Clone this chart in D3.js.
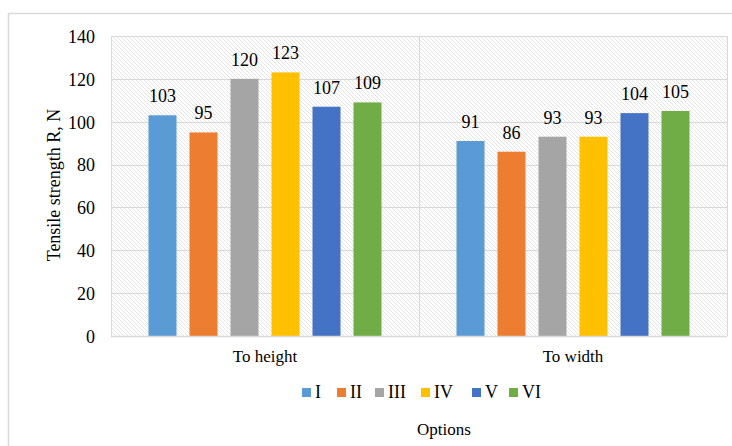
<!DOCTYPE html>
<html>
<head>
<meta charset="utf-8">
<script src="https://cdn.jsdelivr.net/npm/d3@7"></script>
<style>
  html, body { margin: 0; padding: 0; background: #fff; }
  svg { display: block; }
</style>
</head>
<body>
<svg id="chart" width="732" height="446"></svg>
<script>
// Tensile strength by option, measured in two directions
const categories = ["To height", "To width"];
const options = ["I", "II", "III", "IV", "V", "VI"];
const valuesToHeight = [103, 95, 120, 123, 107, 109];
const valuesToWidth = [91, 86, 93, 93, 104, 105];
const yTicks = [0, 20, 40, 60, 80, 100, 120, 140];
const colors = ["#5B9BD5", "#ED7D31", "#A5A5A5", "#FFC000", "#4472C4", "#70AD47"];

const seriesByCategory = [valuesToHeight, valuesToWidth];
const FONT = "'Liberation Serif', 'Times New Roman', Times, serif";

const svg = d3.select("#chart");
const W = 732, H = 446;
const plot = { left: 111, right: 727, top: 36, bottom: 336 };

// Outer chart frame
svg.append("rect")
  .attr("x", 8.5).attr("y", 13.5)
  .attr("width", W - 8.5 + 5).attr("height", H)
  .attr("fill", "#fff").attr("stroke", "#d9d9d9").attr("stroke-width", 1.5);

// Diagonal hatch used as the plot-area fill
const defs = svg.append("defs");
const pat = defs.append("pattern")
  .attr("id", "hatch").attr("patternUnits", "userSpaceOnUse")
  .attr("width", 4).attr("height", 4);
pat.append("rect").attr("width", 4).attr("height", 4).attr("fill", "#fff");
pat.append("path")
  .attr("d", "M-1,-1 L5,5 M-1,3 L1,5 M3,-1 L5,1")
  .attr("stroke", "#e4e4e4").attr("stroke-width", 1);

const x0 = d3.scaleBand().domain(categories).range([plot.left, plot.right]).padding(0);
const x1 = d3.scaleBand().domain(options)
  .range([37.5, x0.bandwidth() - 37.5]).paddingInner(13 / 41).paddingOuter(0);
const y = d3.scaleLinear().domain([0, 140]).range([plot.bottom, plot.top]);

svg.append("rect")
  .attr("x", plot.left).attr("y", plot.top)
  .attr("width", plot.right - plot.left).attr("height", plot.bottom - plot.top)
  .attr("fill", "url(#hatch)");

// Horizontal gridlines
svg.append("g")
  .selectAll("line").data(yTicks).join("line")
  .attr("x1", plot.left).attr("x2", plot.right)
  .attr("y1", d => Math.round(y(d)) + 0.5).attr("y2", d => Math.round(y(d)) + 0.5)
  .attr("stroke", "#d9d9d9").attr("stroke-width", 1);

// Vertical separators between categories
const seps = [plot.left, x0(categories[1]), plot.right];
svg.append("g")
  .selectAll("line").data(seps).join("line")
  .attr("x1", d => Math.round(d) + 0.5).attr("x2", d => Math.round(d) + 0.5)
  .attr("y1", plot.top).attr("y2", plot.bottom)
  .attr("stroke", "#d9d9d9").attr("stroke-width", 1);

// Bars and value labels
const groups = svg.append("g").selectAll("g").data(categories).join("g")
  .attr("transform", d => `translate(${x0(d)},0)`);

groups.each(function (cat, ci) {
  const g = d3.select(this);
  const vals = seriesByCategory[ci];
  g.selectAll("rect").data(vals).join("rect")
    .attr("x", (d, i) => x1(options[i]))
    .attr("width", x1.bandwidth())
    .attr("y", d => y(d))
    .attr("height", d => y(0) - y(d))
    .attr("fill", (d, i) => colors[i]);
  g.selectAll("text").data(vals).join("text")
    .attr("x", (d, i) => x1(options[i]) + x1.bandwidth() / 2)
    .attr("y", d => y(d) - 13)
    .attr("text-anchor", "middle")
    .style("font-family", FONT)
    .style("font-size", "18px")
    .style("fill", "#000")
    .text(d => d);
});

// Bottom axis line
svg.append("line")
  .attr("x1", plot.left).attr("x2", plot.right)
  .attr("y1", plot.bottom + 0.5).attr("y2", plot.bottom + 0.5)
  .attr("stroke", "#d9d9d9").attr("stroke-width", 1.5);

// Y axis tick labels
const yAxis = d3.axisLeft(y).tickValues(yTicks).tickSize(0).tickPadding(0);
const yg = svg.append("g").attr("transform", `translate(${plot.left - 16},0)`).call(yAxis);
yg.select(".domain").remove();
yg.selectAll("text")
  .style("font-family", FONT)
  .style("font-size", "18px")
  .style("fill", "#000")
  .attr("dy", "0.35em");

// Category labels
const xAxis = d3.axisBottom(x0).tickSize(0).tickPadding(0);
const xg = svg.append("g").attr("transform", `translate(0,${plot.bottom})`).call(xAxis);
xg.select(".domain").remove();
xg.selectAll("text")
  .style("font-family", FONT)
  .style("font-size", "17px")
  .style("fill", "#000")
  .attr("y", 26).attr("dy", 0);

// Axis title
svg.append("text")
  .attr("transform", "translate(60,185) rotate(-90)")
  .attr("text-anchor", "middle")
  .style("font-family", FONT)
  .style("font-size", "18px")
  .text("Tensile strength R, N");

// Legend
const legendX = [302, 337, 375, 421, 472, 509];
const legend = svg.append("g").selectAll("g").data(options).join("g")
  .attr("transform", (d, i) => `translate(${legendX[i]},388)`);
legend.append("rect").attr("width", 9).attr("height", 9)
  .attr("fill", (d, i) => colors[i]);
legend.append("text").attr("x", 13).attr("y", 9.5)
  .style("font-family", FONT)
  .style("font-size", "18px")
  .text(d => d);

// Legend title
svg.append("text")
  .attr("x", 444).attr("y", 435)
  .attr("text-anchor", "middle")
  .style("font-family", FONT)
  .style("font-size", "17px")
  .text("Options");
</script>
</body>
</html>
